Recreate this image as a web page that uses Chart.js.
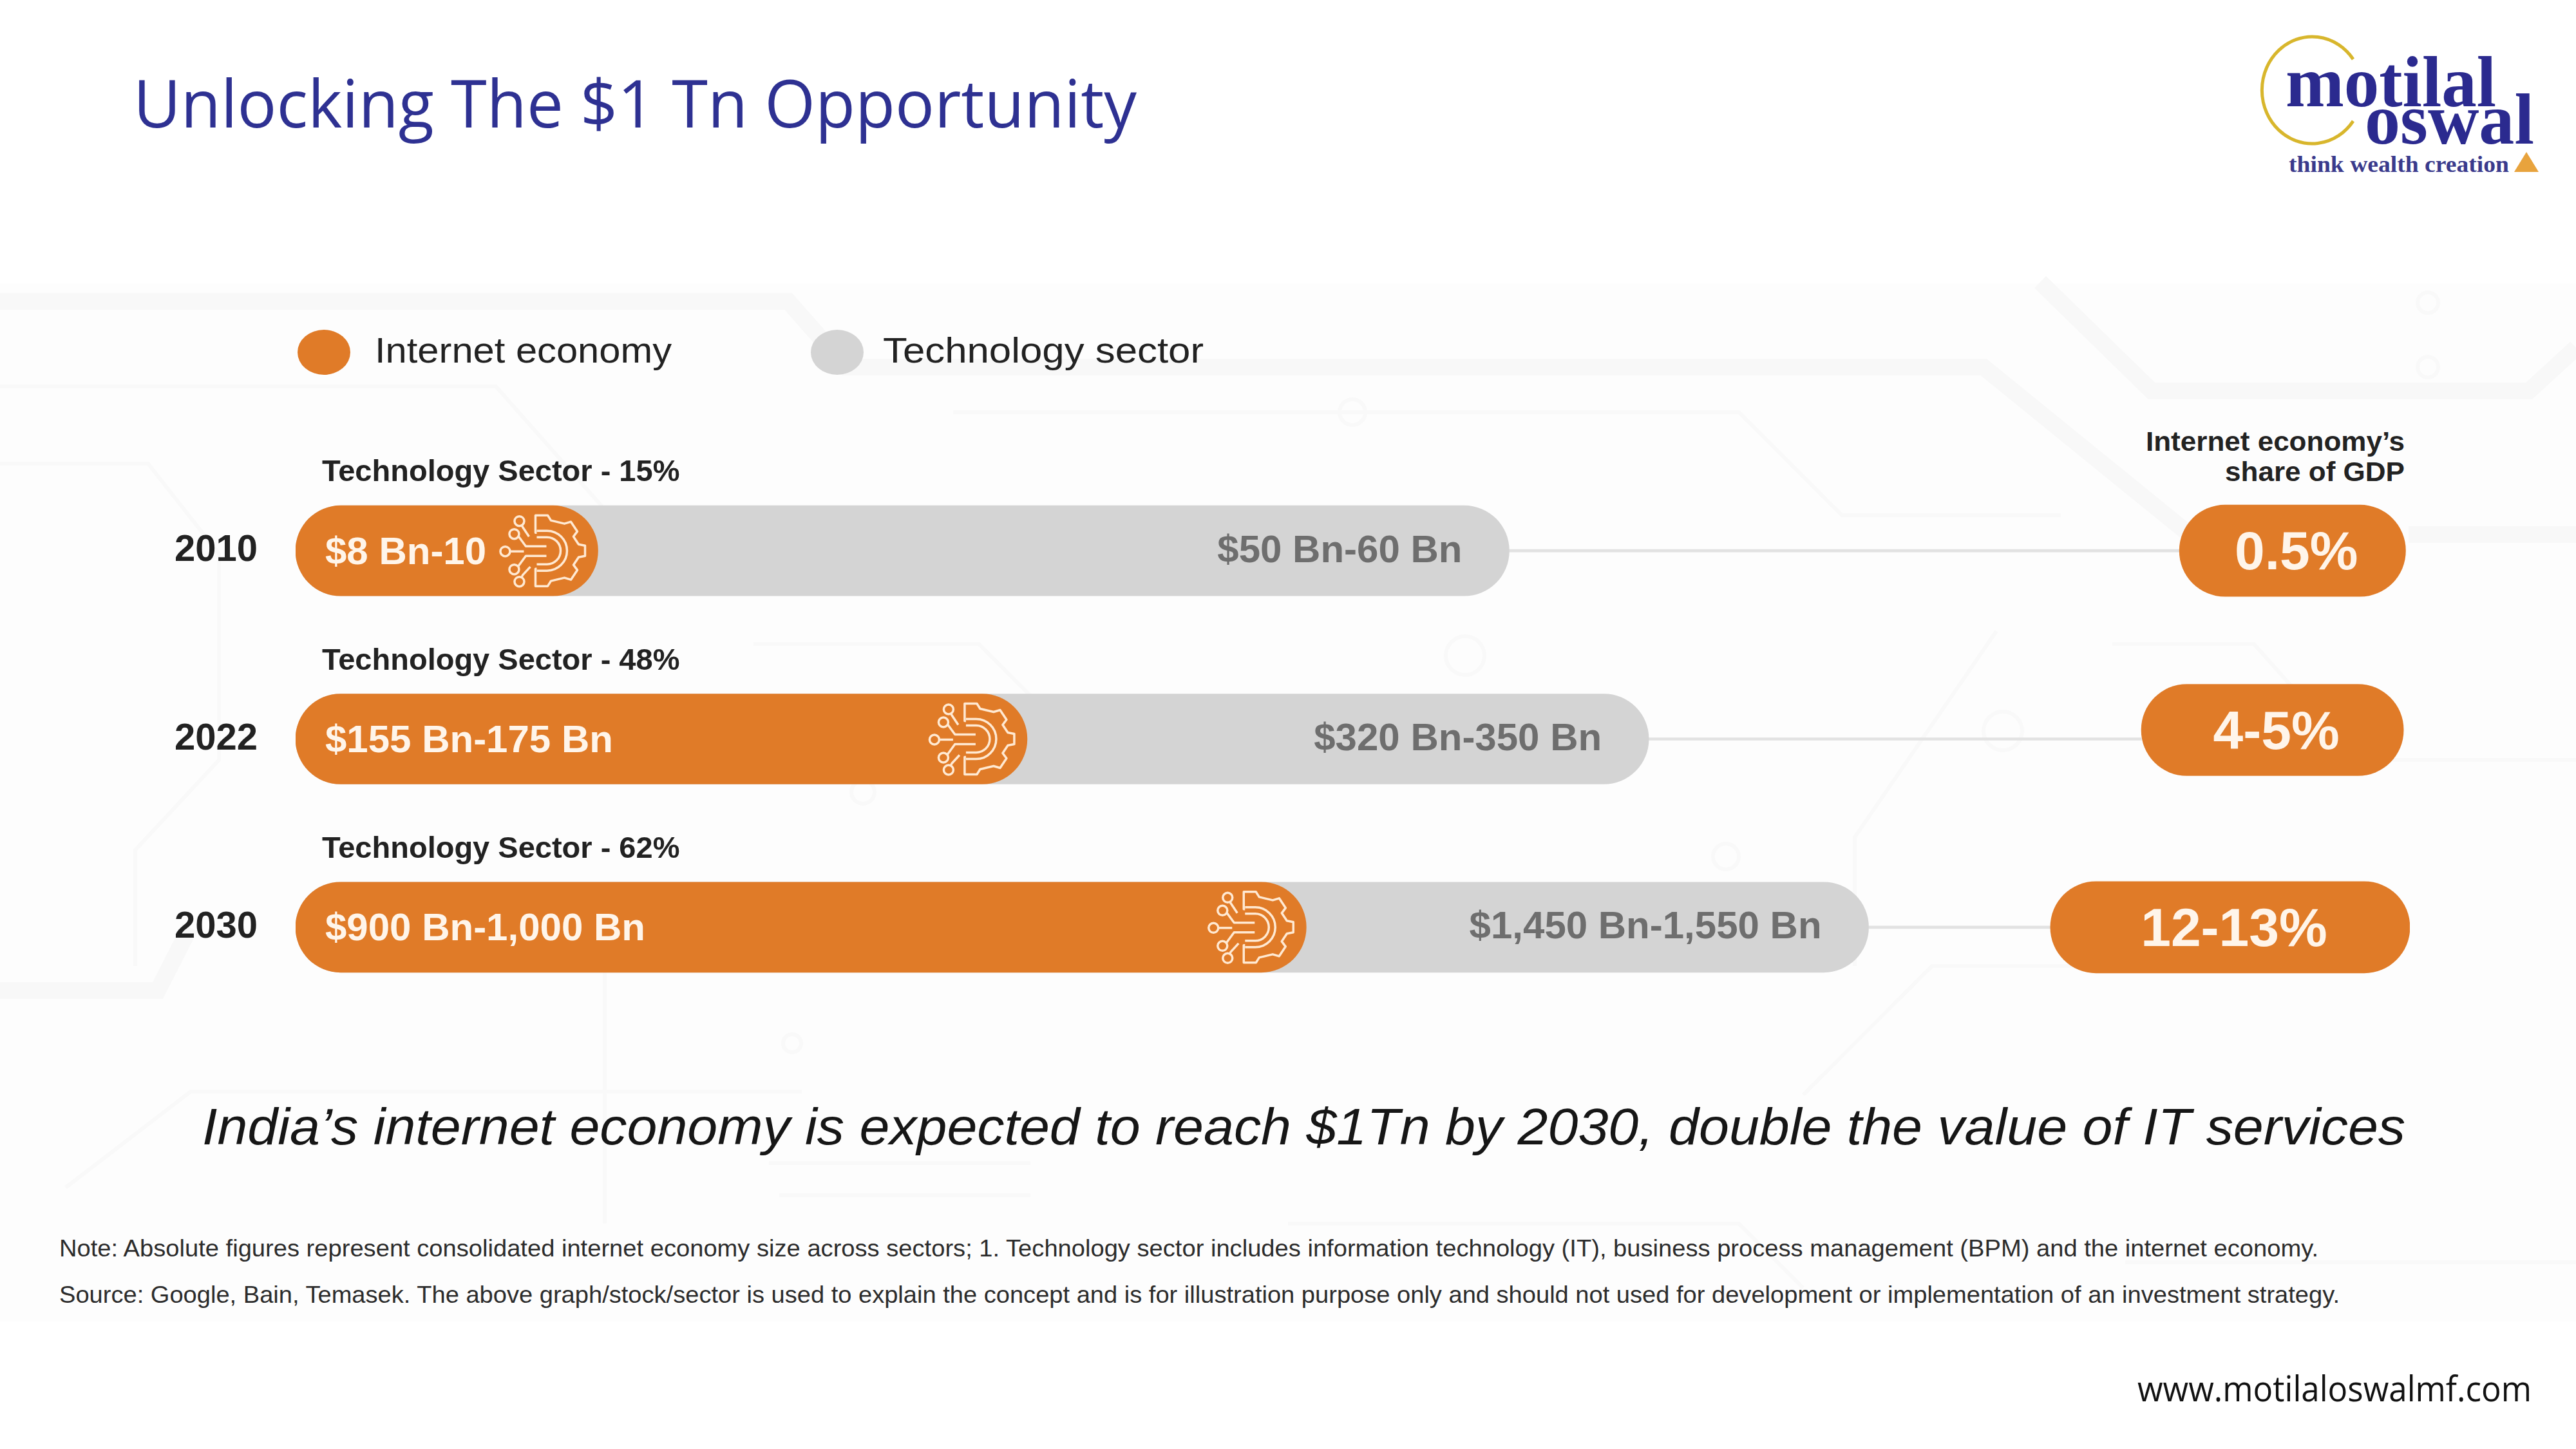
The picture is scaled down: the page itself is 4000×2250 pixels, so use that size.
<!DOCTYPE html>
<html><head><meta charset="utf-8">
<style>
html,body{margin:0;padding:0;background:#fff;width:4000px;height:2250px;overflow:hidden}
#bg{position:absolute;left:0;top:0;width:4000px;height:2250px}
#c{position:absolute;left:0;top:0}
</style>
<script src="https://cdn.jsdelivr.net/npm/chart.js@4"></script>
</head><body>
<svg id="bg" viewBox="0 0 4000 2250" xmlns="http://www.w3.org/2000/svg">
  <rect x="0" y="440" width="4000" height="1612" fill="#fdfdfd"/>
  <g fill="none" stroke="#f8f8f8" stroke-width="26">
    <path d="M0 468H1224L1314 570H3080L3400 830"/>
    <path d="M3168 438L3341 607H3927L4000 540"/>
    <path d="M3740 830H4000"/>
    <path d="M0 1538H245L295 1440"/>
  </g>
  <g fill="none" stroke="#f9f9f9" stroke-width="6">
    <path d="M0 600H770L1000 860H1600"/>
    <path d="M0 720H230L340 860V1180L210 1320V1500"/>
    <path d="M1170 1000H1520L1660 1140H2270"/>
    <path d="M1480 640H2700L2860 800H3200"/>
    <path d="M102 1844L296 1695H1245"/>
    <path d="M939 1500V1900"/>
    <path d="M1194 1806H1600M1210 1856H1600"/>
    <path d="M2800 1700L3000 1500H3700"/>
    <path d="M2000 1900H2700L2800 2000"/>
    <path d="M3280 1000H3500L3660 1180H4000"/>
    <path d="M3300 1960H4000"/>
    <path d="M3100 980L2880 1300V1500"/>
    <circle cx="2275" cy="1018" r="30"/><circle cx="3110" cy="1135" r="30"/><circle cx="2100" cy="640" r="20"/>
    <circle cx="3770" cy="470" r="16"/><circle cx="2680" cy="1330" r="20"/><circle cx="1340" cy="1230" r="18"/>
    <circle cx="3770" cy="570" r="16"/><circle cx="1230" cy="1620" r="14"/>
  </g>
  <!-- Title -->
  <text x="207" y="198" font-family="'Open Sans'" font-size="102" fill="#2e3192" textLength="1558" lengthAdjust="spacingAndGlyphs">Unlocking The $1 Tn Opportunity</text>
  <!-- Logo -->
  <g>
    <path d="M3654 92A78 83 0 1 0 3654 188" fill="none" stroke="#d8b62c" stroke-width="5"/>
    <text x="3549" y="165" font-family="'Liberation Serif'" font-weight="700" font-size="112" fill="#2b2a8f" textLength="327" lengthAdjust="spacingAndGlyphs">motilal</text>
    <text x="3672" y="223" font-family="'Liberation Serif'" font-weight="700" font-size="112" fill="#2b2a8f" textLength="263" lengthAdjust="spacingAndGlyphs">oswal</text>
    <text x="3554" y="267" font-family="'Liberation Serif'" font-weight="700" font-size="36" fill="#3a3a8c" textLength="342" lengthAdjust="spacingAndGlyphs">think wealth creation</text>
    <path d="M3923 236L3904 267H3942Z" fill="#e8a33d"/>
  </g>
  <!-- Legend -->
  <ellipse cx="503" cy="547" rx="41" ry="35" fill="#e07b28"/>
  <text x="582" y="563" font-family="'Liberation Sans'" font-size="56" fill="#222" textLength="461" lengthAdjust="spacingAndGlyphs">Internet economy</text>
  <ellipse cx="1300" cy="547" rx="41" ry="35" fill="#d4d4d4"/>
  <text x="1371" y="563" font-family="'Liberation Sans'" font-size="56" fill="#222" textLength="498" lengthAdjust="spacingAndGlyphs">Technology sector</text>
  <!-- GDP share header -->
  <text x="3332" y="700" font-family="'Liberation Sans'" font-weight="700" font-size="42" fill="#222" textLength="402" lengthAdjust="spacingAndGlyphs">Internet economy’s</text>
  <text x="3455" y="747" font-family="'Liberation Sans'" font-weight="700" font-size="42" fill="#222" textLength="279" lengthAdjust="spacingAndGlyphs">share of GDP</text>
  <!-- Caption -->
  <text x="314" y="1777" font-family="'Liberation Sans'" font-style="italic" font-size="80" fill="#161616" textLength="3421" lengthAdjust="spacingAndGlyphs">India’s internet economy is expected to reach $1Tn by 2030, double the value of IT services</text>
  <!-- Notes -->
  <text x="92" y="1951" font-family="'Liberation Sans'" font-size="36" fill="#2c2c2c" textLength="3508" lengthAdjust="spacingAndGlyphs">Note: Absolute figures represent consolidated internet economy size across sectors; 1. Technology sector includes information technology (IT), business process management (BPM) and the internet economy.</text>
  <text x="92" y="2023" font-family="'Liberation Sans'" font-size="36" fill="#2c2c2c" textLength="3541" lengthAdjust="spacingAndGlyphs">Source: Google, Bain, Temasek. The above graph/stock/sector is used to explain the concept and is for illustration purpose only and should not used for development or implementation of an investment strategy.</text>
  <!-- URL -->
  <text x="3319" y="2176" font-family="'Open Sans'" font-size="54" fill="#111" textLength="612" lengthAdjust="spacingAndGlyphs">www.motilaloswalmf.com</text>
</svg>
<canvas id="c" width="4000" height="2250"></canvas>
<script>
// Categories and values
const years = ['2010', '2022', '2030'];
// Bar lengths as drawn in the infographic (% of plot width)
const internetBar = [14.3, 34.6, 47.8];
const technologyBar = [57.4, 64.0, 74.4];
const shareStart = [89.1, 87.3, 83.0];
const shareEnd = [99.8, 99.7, 100];
// Labels
const internetLabels = ['$8 Bn-10', '$155 Bn-175 Bn', '$900 Bn-1,000 Bn'];
const technologyLabels = ['$50 Bn-60 Bn', '$320 Bn-350 Bn', '$1,450 Bn-1,550 Bn'];
const sectorLabels = ['Technology Sector - 15%', 'Technology Sector - 48%', 'Technology Sector - 62%'];
const shareLabels = ['0.5%', '4-5%', '12-13%'];

const ORANGE = '#e07b28', GREY = '#d4d4d4';
const FONT = "'Liberation Sans'";

function drawGear(ctx, cx, cy) {
  ctx.save();
  ctx.translate(cx, cy);
  ctx.strokeStyle = '#ffe9d2';
  ctx.lineWidth = 3.5;
  ctx.lineJoin = 'round';
  const outline = [[-15, -28], [-17, -28], [-17, -55], [2, -55], [7, -47], [28, -42], [38, -45], [48, -30], [42, -22],
    [50, -10], [60, -8], [60, 8], [50, 10], [42, 22], [48, 30], [38, 45], [28, 42], [7, 47], [2, 55], [-17, 55], [-17, 28], [-15, 28]];
  ctx.beginPath();
  outline.forEach(([x, y], i) => i ? ctx.lineTo(x, y) : ctx.moveTo(x, y));
  ctx.stroke();
  // inner arcs
  [31, 21].forEach(r => {
    ctx.beginPath();
    ctx.moveTo(-15, -r);
    ctx.lineTo(1, -r);
    ctx.arc(1, 0, r, -Math.PI / 2, Math.PI / 2);
    ctx.lineTo(-15, r);
    ctx.stroke();
  });
  // circuit traces, first point carries a small node
  const traces = [
    [[-64, 1], [-35, 1]],
    [[-50, -26], [-43, -22], [-32, -7], [0, -7]],
    [[-50, 29], [-43, 23], [-32, 8], [0, 8]],
    [[-42, -46], [-37, -37], [-27, -22]],
    [[-42, 48], [-37, 38], [-25, 25]]
  ];
  traces.forEach(t => {
    ctx.beginPath();
    t.forEach(([x, y], i) => i ? ctx.lineTo(x, y) : ctx.moveTo(x, y));
    ctx.stroke();
    ctx.beginPath();
    ctx.fillStyle = ORANGE;
    ctx.arc(t[0][0], t[0][1], 7.5, 0, Math.PI * 2);
    ctx.fill();
    ctx.stroke();
  });
  ctx.restore();
}

const nudgePlugin = {
  id: 'nudge',
  // the 2022 share pill sits slightly above its row in the reference
  afterDatasetsUpdate(chart) {
    const meta = chart.getDatasetMeta(3);
    if (meta.data[1]) meta.data[1].y -= 14;
  }
};

const labelPlugin = {
  id: 'labels',
  afterDatasetsDraw(chart) {
    const ctx = chart.ctx;
    const grey = chart.getDatasetMeta(1).data;
    const orange = chart.getDatasetMeta(2).data;
    const pills = chart.getDatasetMeta(3).data;
    const left = chart.chartArea.left;
    ctx.save();
    ctx.textBaseline = 'middle';
    years.forEach((_, i) => {
      const g = grey[i], o = orange[i], p = pills[i];
      // icon at orange bar end
      drawGear(ctx, o.x - 80, o.y);
      // orange label
      ctx.textAlign = 'left';
      ctx.font = 'bold 60px ' + FONT;
      ctx.fillStyle = '#fff5ea';
      ctx.fillText(internetLabels[i], left + 46, o.y + 4);
      // grey label
      ctx.textAlign = 'right';
      ctx.fillStyle = '#6e6e6e';
      ctx.fillText(technologyLabels[i], g.x - 73, g.y + 1);
      // sector label above
      ctx.textAlign = 'left';
      ctx.textBaseline = 'alphabetic';
      ctx.font = 'bold 47px ' + FONT;
      ctx.fillStyle = '#222';
      ctx.fillText(sectorLabels[i], left + 41, g.y - 108);
      ctx.textBaseline = 'middle';
      // pill label
      ctx.textAlign = 'center';
      ctx.font = 'bold 84px ' + FONT;
      ctx.fillStyle = '#fff5ea';
      ctx.fillText(shareLabels[i], (p.x + p.base) / 2 + 6, p.y + 6);
    });
    ctx.restore();
  }
};

new Chart(document.getElementById('c').getContext('2d'), {
  type: 'bar',
  data: {
    labels: years,
    datasets: [
      { label: 'Connector', data: technologyBar.map((v, i) => [v, shareStart[i]]), backgroundColor: '#e2e2e2', barThickness: 4, grouped: false, order: 4 },
      { label: 'Technology sector', data: technologyBar, backgroundColor: GREY, barThickness: 140, borderRadius: 70, borderSkipped: false, grouped: false, order: 3 },
      { label: 'Internet economy', data: internetBar, backgroundColor: ORANGE, barThickness: 140, borderRadius: 70, borderSkipped: false, grouped: false, order: 2 },
      { label: "Internet economy's share of GDP", data: shareStart.map((v, i) => [v, shareEnd[i]]), backgroundColor: ORANGE, barThickness: 142, borderRadius: 71, borderSkipped: false, grouped: false, order: 1 }
    ]
  },
  options: {
    indexAxis: 'y',
    responsive: false,
    devicePixelRatio: 1,
    animation: false,
    layout: { padding: { top: 709, bottom: 664, right: 258, left: 0 } },
    plugins: { legend: { display: false }, title: { display: false }, tooltip: { enabled: false } },
    scales: {
      x: { type: 'linear', display: false, min: 0, max: 100, grid: { display: false } },
      y: {
        type: 'category',
        grid: { display: false, drawTicks: false },
        border: { display: false },
        afterFit(s) { s.width = 459; },
        ticks: { color: '#222', font: { family: FONT, weight: 'bold', size: 58 }, padding: 59 }
      }
    }
  },
  plugins: [nudgePlugin, labelPlugin]
});
</script>
</body></html>
